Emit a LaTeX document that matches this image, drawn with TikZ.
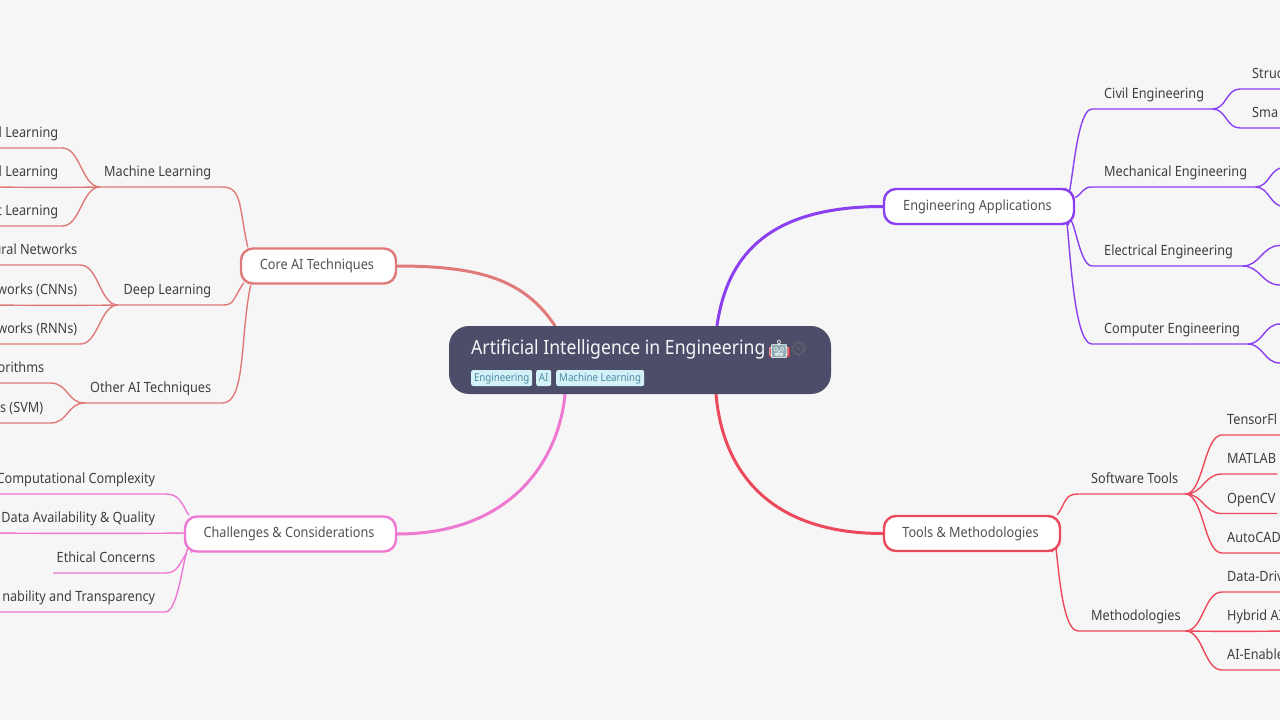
\documentclass[tikz,border=0pt]{standalone}
\usepackage{fontspec}
\setmainfont[FakeStretch=0.9]{Noto Sans}
\newfontfamily\emojifont{Noto Emoji}
\newfontfamily\symfont{DejaVu Sans}
\usetikzlibrary{backgrounds}
\definecolor{bgc}{HTML}{F6F6F6}
\definecolor{txt}{HTML}{3F3F3F}
\definecolor{rootc}{HTML}{4C4E69}
\definecolor{tagf}{HTML}{D5F1F8}
\definecolor{tagt}{HTML}{4A8BA0}
\definecolor{coral}{HTML}{E07A7A}
\definecolor{purp}{HTML}{8A3FF0}
\definecolor{redc}{HTML}{EC4A5C}
\definecolor{pinkc}{HTML}{EE78D2}
\definecolor{robotc}{HTML}{8FAAB3}
\definecolor{robotr}{HTML}{C9363F}
\definecolor{gearc}{HTML}{5C5D6E}
\tikzset{
  lbl/.style={inner sep=0pt,minimum height=26.8pt,text height=10pt,text depth=3pt,text=txt,font=\fontsize{14.1}{16}\selectfont},
  topic/.style={draw=#1,fill=white,line width=2.4pt,rounded corners=12pt,inner sep=0pt,minimum height=35pt,text=txt!90,text height=10pt,text depth=3pt,font=\fontsize{14.1}{16}\selectfont},
  tagbox/.style={fill=tagf,text=tagt,rounded corners=2pt,inner sep=0pt,minimum height=16pt,text height=8.5pt,text depth=1.5pt,font=\fontsize{10.8}{12}\selectfont},
  main/.style={draw=#1,line width=3pt,line cap=round},
  twig/.style={draw=#1,line width=1.4pt},
  flat/.style={to path={.. controls +(30,0.5) and +(-30,0.5) .. (\tikztotarget)}},
}
\newcommand\lab[7]{%
  \pgfmathsetlengthmacro\labw{#3-(#2)}%
  \node[lbl,minimum width=\labw,anchor=south west] (#1) at (#2,#4)
    {\makebox[\labw][#5]{\hspace*{#6pt}#7\hspace*{#6pt}}};}
\begin{document}
\begin{tikzpicture}[x=1pt,y=-1pt]
\useasboundingbox (0,0) rectangle (1280,720);
\clip (0,0) rectangle (1280,720);

% root
\node[fill=rootc,rounded corners=20pt,minimum width=382pt,minimum height=68pt,inner sep=0pt] (root) at (640,360) {};
\node[anchor=base west,inner sep=0pt,text=white!95!rootc,font=\fontsize{19.6}{22}\selectfont] (title) at (471,354) {Artificial Intelligence in Engineering};
% colour parts of the robot emoji
\fill[robotr] (768.5,347) rectangle (771,356.5);
\fill[robotr] (787,347) rectangle (789.5,356.5);
\fill[robotc] (771,344) rectangle (787,358);
\node[anchor=center,inner sep=0pt,text=white!88!robotc,font=\emojifont\fontsize{18}{20}\selectfont] (robot) at (779,349) {🤖};
\node[anchor=center,inner sep=0pt,text=gearc,font=\symfont\fontsize{21}{24}\selectfont] (gear) at (798.5,349) {⚙};
\node[tagbox,minimum width=61pt,anchor=west] (t1) at (471,378) {Engineering};
\node[tagbox,minimum width=15pt,anchor=west] (t2) at (536,378) {AI};
\node[tagbox,minimum width=88pt,anchor=west] (t3) at (556,378) {Machine Learning};

% topics
\node[topic=coral,minimum width=155pt] (core) at (318.5,266) {Core AI Techniques\hspace*{3pt}};
\node[topic=purp,minimum width=190pt] (eng) at (979,206.5) {Engineering Applications\hspace*{3pt}};
\node[topic=redc,minimum width=176pt] (tools) at (972,533.5) {Tools \& Methodologies\hspace*{3pt}};
\node[topic=pinkc,minimum width=211pt] (chal) at (290.5,534) {Challenges \& Considerations\hspace*{3pt}};

% core AI
\lab{ml}{100}{222}{187}{r}{11}{Machine Learning}
\lab{dl}{118}{222}{305}{r}{11}{Deep Learning}
\lab{oa}{85}{222}{403}{r}{11}{Other AI Techniques}
\lab{ml1}{-2}{62}{148}{r}{4}{d Learning}
\lab{ml2}{-2}{100}{187}{r}{42}{d Learning}
\lab{ml3}{-2}{62}{226}{r}{4}{t Learning}
\lab{dl1}{-2}{80}{265}{r}{3}{ural Networks}
\lab{dl2}{-2}{118}{305}{r}{41}{works (CNNs)}
\lab{dl3}{-2}{80}{344}{r}{3}{works (RNNs)}
\lab{oa1}{-2}{50}{383}{r}{6}{orithms}
\lab{oa2}{-2}{50}{423}{r}{7}{s (SVM)}
% engineering
\lab{civ}{1092}{1212}{109}{l}{12}{Civil Engineering}
\lab{mec}{1092}{1255}{187}{l}{12}{Mechanical Engineering}
\lab{ele}{1092}{1242}{266}{l}{12}{Electrical Engineering}
\lab{cmp}{1092}{1247}{344}{l}{12}{Computer Engineering}
\lab{civ1}{1240}{1282}{89}{l}{12}{Struc}
\lab{civ2}{1240}{1282}{128}{l}{12}{Sma}
% tools
\lab{sw}{1078}{1185}{494}{l}{13}{Software Tools}
\lab{me}{1078}{1185}{631}{l}{13}{Methodologies}
\lab{sw1}{1222}{1282}{435}{l}{5}{TensorFl}
\lab{sw2}{1222}{1277}{474}{l}{5}{MATLAB}
\lab{sw3}{1222}{1277}{513.5}{l}{5}{OpenCV}
\lab{sw4}{1222}{1282}{553}{l}{5}{AutoCAD}
\lab{me1}{1222}{1282}{592}{l}{5}{Data-Driv}
\lab{me2}{1185}{1282}{631}{l}{42}{Hybrid AI}
\lab{me3}{1222}{1282}{670}{l}{5}{AI-Enable}
% challenges
\lab{ch1}{-4}{165}{494}{r}{10}{Computational Complexity}
\lab{ch2}{-4}{185}{533}{r}{30}{Data Availability \& Quality}
\lab{ch3}{53}{165}{573}{r}{10}{Ethical Concerns}
\lab{ch4}{-4}{165}{612}{r}{10}{nability and Transparency}

% free ends of twigs leaving the page on the right
\coordinate (mec1) at (1284,167.5);
\coordinate (mec2) at (1284,206.5);
\coordinate (ele1) at (1284,245.5);
\coordinate (ele2) at (1284,285);
\coordinate (cmp1) at (1284,324);
\coordinate (cmp2) at (1284,363);

\begin{scope}[on background layer]
\fill[bgc] (0,0) rectangle (1280,720);
% main branches
\draw[main=coral] (core.east) .. controls +(85,0) and +(-30,-45) .. ([xshift=-85pt]root.north);
\draw[main=purp] (eng.west) .. controls +(-115,0) and +(10,-70) .. ([xshift=77pt]root.north);
\draw[main=redc] (tools.west) .. controls +(-120,0) and +(6,70) .. ([xshift=76pt]root.south);
\draw[main=pinkc] (chal.east) .. controls +(115,0) and +(-6,65) .. ([xshift=-75pt]root.south);
% core twigs
\begin{scope}[twig=coral]
\draw (ml.south west) -- (ml.south east) .. controls +(20,0) and +(-9,-40) .. ([xshift=8pt]core.north west);
\draw (dl.south west) -- (dl.south east) .. controls +(12,0) and +(-12,18) .. ([xshift=4pt,yshift=2pt]core.south west);
\draw (oa.south west) -- (oa.south east) .. controls +(24,0) and +(-11,50) .. ([xshift=11pt]core.south west);
\foreach \a/\b in {ml1/ml,ml3/ml,dl1/dl,dl3/dl,oa1/oa,oa2/oa}
  \draw (\a.south west) -- (\a.south east) .. controls +(18,0) and +(-18,0) .. (\b.south west);
\draw (ml2.south west) to[flat] (ml.south west);
\draw (dl2.south west) to[flat] (dl.south west);
\end{scope}
% engineering twigs
\begin{scope}[twig=purp]
\draw (civ.south east) -- (civ.south west) .. controls +(-19,0) and +(6,40) .. ([xshift=-10pt]eng.north east);
\draw (mec.south east) -- (mec.south west) .. controls +(-10,0) and +(8,-4) .. ([yshift=9pt]eng.east);
\draw (ele.south east) -- (ele.south west) .. controls +(-14,0) and +(5,-22) .. ([xshift=-7pt]eng.south east);
\draw (cmp.south east) -- (cmp.south west) .. controls +(-24,0) and +(6,-50) .. ([xshift=-12pt]eng.south east);
\draw (civ1.south east) -- (civ1.south west) .. controls +(-14,0) and +(14,0) .. (civ.south east);
\draw (civ2.south east) -- (civ2.south west) .. controls +(-14,0) and +(14,0) .. (civ.south east);
\draw (mec.south east) .. controls +(14,0) and +(-14,0) .. (mec1);
\draw (mec.south east) .. controls +(14,0) and +(-14,0) .. (mec2);
\draw (ele.south east) .. controls +(18,0) and +(-18,0) .. ([xshift=-4pt]ele1) -- (ele1);
\draw (ele.south east) .. controls +(18,0) and +(-18,0) .. ([xshift=-4pt]ele2) -- (ele2);
\draw (cmp.south east) .. controls +(16,0) and +(-16,0) .. ([xshift=-4pt]cmp1) -- (cmp1);
\draw (cmp.south east) .. controls +(16,0) and +(-16,0) .. ([xshift=-4pt]cmp2) -- (cmp2);
\end{scope}
% tools twigs
\begin{scope}[twig=redc]
\draw (sw.south east) -- (sw.south west) .. controls +(-14,0) and +(9,-12) .. ([xshift=-4pt]tools.north east);
\draw (me.south east) -- (me.south west) .. controls +(-22,0) and +(5,-50) .. ([xshift=-9pt]tools.south east);
\foreach \a/\b in {sw1/sw,sw2/sw,sw3/sw,sw4/sw,me1/me,me3/me}
  \draw (\a.south east) -- (\a.south west) .. controls +(-18,0) and +(18,0) .. (\b.south east);
\draw (me.south east) to[flat] (me2.south east);
\end{scope}
% challenge twigs
\begin{scope}[twig=pinkc]
\draw (ch1.south west) -- (ch1.south east) .. controls +(13,0) and +(-8,-14) .. ([xshift=5pt]chal.north west);
\draw (ch2.south west) to[flat] (ch2.south east);
\draw (ch3.south west) -- (ch3.south east) .. controls +(12,0) and +(-8,12) .. ([xshift=3pt]chal.south west);
\draw (ch4.south west) -- (ch4.south east) .. controls +(16,0) and +(-6,-30) .. ([xshift=8pt]chal.south west);
\end{scope}
\end{scope}
\end{tikzpicture}
\end{document}
